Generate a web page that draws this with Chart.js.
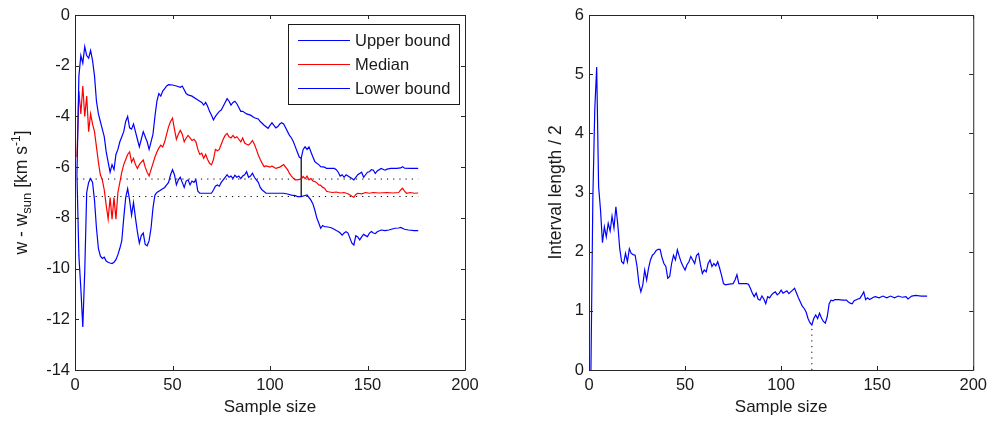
<!DOCTYPE html>
<html>
<head>
<meta charset="utf-8">
<script src="https://cdn.jsdelivr.net/npm/chart.js@4"></script>
<style>
  body { margin: 0; background: #fff; }
  #wrap { position: relative; width: 993px; height: 423px; }
  .panel { position: absolute; top: 0; height: 423px; }
  #left { left: 0; width: 495px; }
  #right { left: 495px; width: 498px; }
</style>
</head>
<body>
<div id="wrap">
  <div class="panel" id="left"><canvas id="bounds"></canvas></div>
  <div class="panel" id="right"><canvas id="halfwidth"></canvas></div>
</div>
<script>
// [sample size, w - w_sun]
const upperBound = [
  [1,-6.3],[2,-2.4],[3,-1.6],[4,-1.9],[5,-1.25],[6,-1.6],[7,-1.7],[8,-1.4],[9,-1.8],[10,-2.4],
  [11,-3.4],[12,-3.9],[13,-4.2],[14,-4.5],[15,-4.8],[16,-5.4],[17,-5.8],[18,-6.2],[19,-5.9],[20,-6.1],
  [21,-5.5],[22,-5.3],[23,-5.0],[24,-4.8],[25,-4.6],[26,-4.2],[27,-4.0],[28,-4.45],[29,-4.5],[30,-4.3],
  [31,-4.6],[32,-4.9],[33,-5.2],[34,-4.9],[35,-4.6],[36,-4.8],[37,-5.0],[38,-5.3],[39,-5.0],[40,-4.7],
  [41,-4.0],[42,-3.4],[43,-3.1],[44,-3.2],[45,-3.0],[46,-2.9],[47,-2.8],[48,-2.75],[50,-2.76],[52,-2.8],
  [54,-2.85],[55,-2.8],[56,-2.95],[57,-3.1],[58,-3.15],[60,-3.2],[62,-3.3],[63,-3.35],[65,-3.45],[66,-3.55],
  [67,-3.45],[68,-3.6],[69,-3.8],[70,-3.95],[71,-4.14],[72,-4.0],[73,-3.9],[74,-3.8],[75,-3.75],[76,-3.6],
  [77,-3.45],[78,-3.3],[79,-3.4],[80,-3.55],[81,-3.45],[82,-3.4],[83,-3.5],[84,-3.65],[85,-3.8],[86,-3.8],
  [88,-3.9],[90,-3.95],[92,-4.05],[94,-4.1],[95,-4.2],[97,-4.35],[99,-4.47],[100,-4.35],[101,-4.25],[102,-4.35],
  [103,-4.45],[104,-4.4],[105,-4.3],[106,-4.25],[107,-4.3],[108,-4.45],[109,-4.6],[110,-4.75],[111,-4.85],[112,-5.0],
  [113,-5.2],[114,-5.4],[115,-5.6],[116,-5.65],[117,-5.3],[118,-5.2],[119,-5.3],[120,-5.2],[121,-5.4],[122,-5.6],
  [123,-5.78],[124,-5.85],[125,-5.9],[126,-5.98],[128,-6.0],[129,-6.05],[131,-6.05],[133,-6.05],[134,-6.1],[135,-6.2],
  [136,-6.35],[137,-6.3],[138,-6.4],[139,-6.3],[140,-6.35],[141,-6.4],[142,-6.45],[143,-6.5],[144,-6.4],[145,-6.3],
  [146,-6.25],[147,-6.2],[148,-6.4],[149,-6.3],[150,-6.2],[151,-6.18],[152,-6.1],[153,-6.12],[154,-6.25],[155,-6.15],
  [157,-6.05],[159,-6.12],[160,-6.08],[162,-6.05],[165,-6.05],[167,-6.03],[168,-5.98],[169,-6.04],[172,-6.05],[176,-6.05]
];

const median = [
  [1,-5.6],[2,-3.0],[3,-3.9],[4,-2.8],[5,-4.0],[6,-3.2],[7,-4.6],[8,-3.9],[9,-4.3],[10,-4.6],
  [11,-5.2],[12,-5.8],[13,-6.3],[14,-6.5],[15,-6.9],[16,-7.5],[17,-8.05],[18,-7.2],[19,-8.05],[20,-7.2],
  [21,-8.05],[22,-7.0],[23,-6.6],[24,-6.2],[25,-5.9],[26,-5.7],[27,-5.5],[28,-5.4],[29,-5.8],[30,-5.65],
  [31,-5.9],[32,-6.05],[33,-5.9],[34,-5.8],[35,-5.72],[36,-6.0],[37,-6.2],[38,-6.35],[39,-6.1],[40,-5.85],
  [41,-5.6],[42,-5.4],[43,-5.25],[44,-5.13],[45,-5.2],[46,-5.0],[47,-4.7],[48,-4.4],[49,-4.2],[50,-4.07],
  [51,-4.5],[52,-4.9],[53,-4.7],[54,-4.55],[55,-4.7],[56,-5.0],[57,-4.85],[58,-4.75],[59,-4.85],[60,-4.95],
  [61,-4.9],[62,-5.0],[63,-5.3],[64,-5.5],[65,-5.45],[66,-5.65],[67,-5.5],[68,-5.7],[69,-5.85],[70,-5.91],
  [71,-5.7],[72,-5.3],[73,-5.35],[74,-5.3],[75,-5.1],[76,-4.9],[77,-4.75],[78,-4.67],[79,-4.8],[80,-4.85],
  [81,-4.75],[82,-4.85],[83,-4.8],[84,-4.9],[85,-5.0],[86,-4.85],[87,-5.05],[88,-5.1],[89,-5.13],[90,-5.05],
  [91,-4.95],[92,-5.1],[93,-5.3],[94,-5.52],[95,-5.7],[96,-5.85],[97,-5.98],[98,-5.95],[100,-6.0],[101,-5.95],
  [102,-6.0],[103,-6.05],[105,-6.0],[106,-5.95],[107,-5.9],[108,-6.0],[109,-6.1],[110,-6.25],[111,-6.35],[112,-6.44],
  [113,-6.5],[114,-6.5],[115,-6.48],[116,-6.47],[117,-6.37],[118,-6.45],[119,-6.35],[120,-6.5],[121,-6.45],[122,-6.55],
  [123,-6.57],[124,-6.62],[125,-6.7],[126,-6.72],[127,-6.8],[128,-6.83],[129,-6.95],[130,-6.97],[132,-7.0],[134,-6.98],
  [136,-7.02],[138,-7.0],[140,-7.05],[141,-7.1],[142,-7.15],[143,-7.19],[144,-7.08],[145,-7.03],[147,-7.05],[149,-7.0],
  [151,-7.03],[153,-7.0],[156,-7.02],[160,-7.0],[163,-7.02],[166,-7.0],[167,-6.9],[168,-6.83],[169,-6.95],[170,-7.03],
  [172,-7.0],[174,-7.03],[176,-7.02]
];

const lowerBound = [
  [1,-6.3],[2,-9.5],[3,-10.8],[4,-12.3],[5,-10.1],[6,-7.0],[7,-6.6],[8,-6.45],[9,-6.6],[10,-7.3],
  [11,-8.4],[12,-9.2],[13,-9.5],[14,-9.6],[15,-9.55],[16,-9.7],[17,-9.75],[18,-9.78],[19,-9.8],[20,-9.75],
  [21,-9.65],[22,-9.45],[23,-9.2],[24,-8.9],[25,-8.0],[26,-7.2],[27,-6.85],[28,-7.3],[29,-7.9],[30,-7.4],
  [31,-8.0],[32,-8.55],[33,-9.0],[34,-8.7],[35,-8.6],[36,-9.05],[37,-9.1],[38,-8.9],[39,-8.4],[40,-7.6],
  [41,-7.1],[42,-7.0],[43,-6.95],[45,-6.85],[46,-6.8],[47,-6.7],[48,-6.6],[49,-6.3],[50,-6.1],[51,-6.3],
  [52,-6.7],[53,-6.5],[54,-6.4],[55,-6.6],[56,-6.8],[57,-6.55],[58,-6.5],[59,-6.7],[60,-6.55],[61,-6.6],
  [62,-6.5],[63,-6.95],[64,-7.03],[70,-7.03],[71,-6.9],[72,-6.75],[73,-6.7],[74,-6.75],[75,-6.6],[76,-6.5],
  [77,-6.4],[78,-6.3],[79,-6.4],[80,-6.35],[81,-6.45],[82,-6.32],[83,-6.4],[84,-6.35],[85,-6.45],[86,-6.35],
  [87,-6.3],[88,-6.18],[89,-6.4],[90,-6.35],[91,-6.24],[92,-6.4],[93,-6.5],[94,-6.6],[95,-6.8],[96,-6.9],
  [98,-7.03],[103,-7.03],[107,-7.03],[109,-7.06],[111,-7.1],[113,-7.12],[114,-7.16],[116,-7.16],[118,-7.12],[119,-7.1],
  [121,-7.3],[122,-7.45],[123,-7.7],[124,-8.0],[125,-8.2],[126,-8.41],[127,-8.3],[128,-8.35],[129,-8.35],[131,-8.38],
  [132,-8.41],[134,-8.5],[135,-8.54],[136,-8.6],[137,-8.68],[138,-8.6],[139,-8.55],[140,-8.6],[141,-8.8],[142,-9.0],
  [143,-9.07],[144,-8.7],[145,-8.75],[146,-8.87],[147,-8.75],[148,-8.65],[149,-8.7],[150,-8.74],[151,-8.6],[152,-8.54],
  [153,-8.6],[154,-8.62],[155,-8.55],[157,-8.48],[159,-8.5],[161,-8.48],[164,-8.41],[166,-8.4],[167,-8.38],[169,-8.45],
  [171,-8.48],[174,-8.5],[176,-8.5]
];

// [sample size, interval length / 2]
const halfInterval = [
  [1,0],[2,2.9],[3,4.4],[4,5.12],[5,3.1],[6,2.7],[7,2.15],[8,2.42],[9,2.25],[10,2.48],
  [11,2.35],[12,2.6],[13,2.4],[14,2.76],[15,2.45],[16,2.05],[17,1.83],[18,1.8],[19,1.97],[20,1.83],
  [21,2.05],[22,1.97],[23,1.95],[24,1.94],[25,1.75],[26,1.46],[27,1.32],[28,1.44],[29,1.69],[30,1.52],
  [31,1.72],[32,1.86],[33,1.94],[34,1.97],[35,2.02],[36,2.04],[37,2.04],[38,1.9],[39,1.8],[40,1.75],
  [41,1.55],[42,1.58],[43,1.8],[44,1.94],[45,1.86],[46,2.03],[47,1.92],[48,1.82],[49,1.75],[50,1.69],
  [51,1.78],[52,1.83],[53,1.92],[54,1.86],[55,1.8],[56,1.94],[57,1.97],[58,1.78],[59,1.63],[60,1.69],
  [61,1.66],[62,1.8],[63,1.86],[64,1.75],[65,1.8],[66,1.76],[67,1.83],[68,1.72],[69,1.6],[70,1.46],
  [71,1.44],[73,1.45],[75,1.46],[76,1.52],[77,1.61],[78,1.46],[80,1.46],[82,1.46],[83,1.45],[84,1.38],
  [85,1.3],[86,1.24],[87,1.3],[88,1.2],[89,1.18],[90,1.25],[91,1.2],[92,1.12],[93,1.24],[94,1.22],
  [95,1.27],[96,1.3],[97,1.32],[98,1.27],[99,1.3],[100,1.35],[101,1.3],[102,1.32],[103,1.34],[104,1.29],
  [105,1.32],[106,1.35],[107,1.38],[108,1.3],[109,1.22],[110,1.15],[111,1.08],[112,1.04],[113,0.98],[114,0.87],
  [115,0.8],[116,0.76],[117,0.87],[118,0.93],[119,0.87],[120,0.96],[121,0.88],[122,0.82],[123,0.79],[124,0.9],
  [125,1.12],[126,1.18],[127,1.17],[128,1.19],[130,1.19],[132,1.18],[134,1.18],[135,1.15],[136,1.13],[137,1.12],
  [138,1.17],[140,1.2],[141,1.21],[142,1.26],[143,1.32],[144,1.19],[145,1.22],[146,1.19],[147,1.21],[148,1.23],
  [149,1.24],[151,1.22],[153,1.25],[155,1.22],[157,1.25],[159,1.22],[161,1.25],[163,1.23],[165,1.24],[166,1.2],
  [168,1.25],[170,1.26],[173,1.25],[176,1.25]
];

const sampleTicks = [0, 50, 100, 150, 200];
const velocityTicks = [-14, -12, -10, -8, -6, -4, -2, 0];
const halfTicks = [0, 1, 2, 3, 4, 5, 6];

// the sample size where the interval is narrowest
const bestSample = 116;
const firstSample = 1;
const lastSample = 176;

const FONT = '"Liberation Sans", Arial, Helvetica, sans-serif';
const INK = '#1a1a1a';
Chart.defaults.font.family = FONT;
Chart.defaults.font.size = 16.5;
Chart.defaults.color = INK;

const valueAt = (series, x) => series.find(p => p[0] === x)[1];
const toPoints = series => series.map(([x, y]) => ({ x, y }));

// box + inward ticks on all four sides, like matlab axes
const boxAxes = {
  id: 'boxAxes',
  afterDatasetsDraw(chart) {
    const { ctx, chartArea: a, scales: { x, y } } = chart;
    const len = 4;
    ctx.save();
    ctx.strokeStyle = '#262626';
    ctx.lineWidth = 1;
    ctx.beginPath();
    x.ticks.forEach(t => {
      const px = Math.round(x.getPixelForValue(t.value)) + 0.5;
      ctx.moveTo(px, a.bottom); ctx.lineTo(px, a.bottom - len);
      ctx.moveTo(px, a.top); ctx.lineTo(px, a.top + len);
    });
    y.ticks.forEach(t => {
      const py = Math.round(y.getPixelForValue(t.value)) + 0.5;
      ctx.moveTo(a.left, py); ctx.lineTo(a.left + len, py);
      ctx.moveTo(a.right, py); ctx.lineTo(a.right - len, py);
    });
    ctx.rect(a.left + 0.5, a.top + 0.5, a.right - a.left, a.bottom - a.top);
    ctx.stroke();
    ctx.restore();
  }
};

// rotated y title with sub/superscripts
function yTitle(parts, baseX) {
  return {
    id: 'yTitle',
    afterDraw(chart) {
      const { ctx, chartArea: a } = chart;
      ctx.save();
      ctx.translate(baseX, (a.top + a.bottom) / 2);
      ctx.rotate(-Math.PI / 2);
      ctx.fillStyle = INK;
      ctx.textBaseline = 'alphabetic';
      let total = 0;
      const widths = parts.map(p => {
        ctx.font = p.size + 'px ' + FONT;
        const w = ctx.measureText(p.text).width;
        total += w;
        return w;
      });
      let pos = -total / 2;
      parts.forEach((p, i) => {
        ctx.font = p.size + 'px ' + FONT;
        ctx.fillText(p.text, pos, p.shift || 0);
        pos += widths[i];
      });
      ctx.restore();
    }
  };
}

// boxed legend in the upper right corner of the plot area
const boxLegend = {
  id: 'boxLegend',
  afterDraw(chart) {
    const { ctx, chartArea: a } = chart;
    const items = chart.data.datasets.filter(d => d.inLegend);
    const w = 171, h = 80;
    const left = a.right - 6 - w, top = a.top + 9;
    ctx.save();
    ctx.fillStyle = '#fff';
    ctx.fillRect(left, top, w, h);
    ctx.strokeStyle = '#1a1a1a';
    ctx.lineWidth = 1;
    ctx.strokeRect(left + 0.5, top + 0.5, w, h);
    ctx.font = '16.5px ' + FONT;
    ctx.textBaseline = 'middle';
    items.forEach((d, i) => {
      const ry = top + 16 + i * 24;
      ctx.strokeStyle = d.borderColor;
      ctx.lineWidth = 1.2;
      ctx.beginPath();
      ctx.moveTo(left + 10, ry + 0.5);
      ctx.lineTo(left + 62, ry + 0.5);
      ctx.stroke();
      ctx.fillStyle = INK;
      ctx.fillText(d.label, left + 67, ry + 1);
    });
    ctx.restore();
  }
};

function xScale(height) {
  return {
    type: 'linear', min: 0, max: 200,
    afterFit: s => { s.height = height; },
    afterBuildTicks: s => { s.ticks = sampleTicks.map(v => ({ value: v })); },
    ticks: { padding: 6 },
    grid: { display: false, drawTicks: false },
    border: { display: false },
    title: { display: true, text: 'Sample size', font: { size: 17 }, padding: { top: 0, bottom: 5 } }
  };
}

function yScale(min, max, tickList, width) {
  return {
    type: 'linear', min, max,
    afterFit: s => { s.width = width; },
    afterBuildTicks: s => { s.ticks = tickList.map(v => ({ value: v })); },
    ticks: { padding: 5 },
    grid: { display: false, drawTicks: false },
    border: { display: false }
  };
}

const common = {
  responsive: true,
  maintainAspectRatio: false,
  animation: false,
  elements: { point: { radius: 0 }, line: { borderWidth: 1.2, tension: 0 } },
  plugins: { legend: { display: false }, tooltip: { enabled: false } }
};

const refMedian = valueAt(median, bestSample);
const refLower = valueAt(lowerBound, bestSample);
const refUpper = valueAt(upperBound, bestSample);

new Chart(document.getElementById('bounds'), {
  type: 'line',
  data: {
    datasets: [
      { label: 'Upper bound', inLegend: true, data: toPoints(upperBound), borderColor: '#0000ff' },
      { label: 'Median', inLegend: true, data: toPoints(median), borderColor: '#ff0000' },
      { label: 'Lower bound', inLegend: true, data: toPoints(lowerBound), borderColor: '#0000ff' },
      { data: [{ x: firstSample, y: refMedian }, { x: lastSample, y: refMedian }], borderColor: '#000', borderWidth: 1, borderDash: [1.2, 5] },
      { data: [{ x: firstSample, y: refLower }, { x: lastSample, y: refLower }], borderColor: '#000', borderWidth: 1, borderDash: [1.2, 5] },
      { data: [{ x: bestSample, y: refUpper }, { x: bestSample, y: refLower }], borderColor: '#000' }
    ]
  },
  options: {
    ...common,
    layout: { padding: { top: 15, right: 30, left: 0, bottom: 0 } },
    scales: { x: xScale(53), y: yScale(-14, 0, velocityTicks, 75) }
  },
  plugins: [boxAxes, boxLegend, yTitle([
    { text: 'w - w', size: 17.5 },
    { text: 'sun', size: 13, shift: 4 },
    { text: ' [km s', size: 17.5 },
    { text: '-1', size: 12, shift: -7 },
    { text: ']', size: 17.5 }
  ], 27)]
});

new Chart(document.getElementById('halfwidth'), {
  type: 'line',
  data: {
    datasets: [
      { label: 'Interval length / 2', data: toPoints(halfInterval), borderColor: '#0000ff' },
      { data: [{ x: bestSample, y: 0 }, { x: bestSample, y: valueAt(halfInterval, bestSample) }], borderColor: '#000', borderWidth: 1, borderDash: [1.2, 4.5] }
    ]
  },
  options: {
    ...common,
    layout: { padding: { top: 15, right: 15, left: 0, bottom: 0 } },
    scales: { x: xScale(53), y: yScale(0, 6, halfTicks, 94) }
  },
  plugins: [boxAxes, yTitle([{ text: 'Interval length / 2', size: 17.5 }], 66)]
});
</script>
</body>
</html>
